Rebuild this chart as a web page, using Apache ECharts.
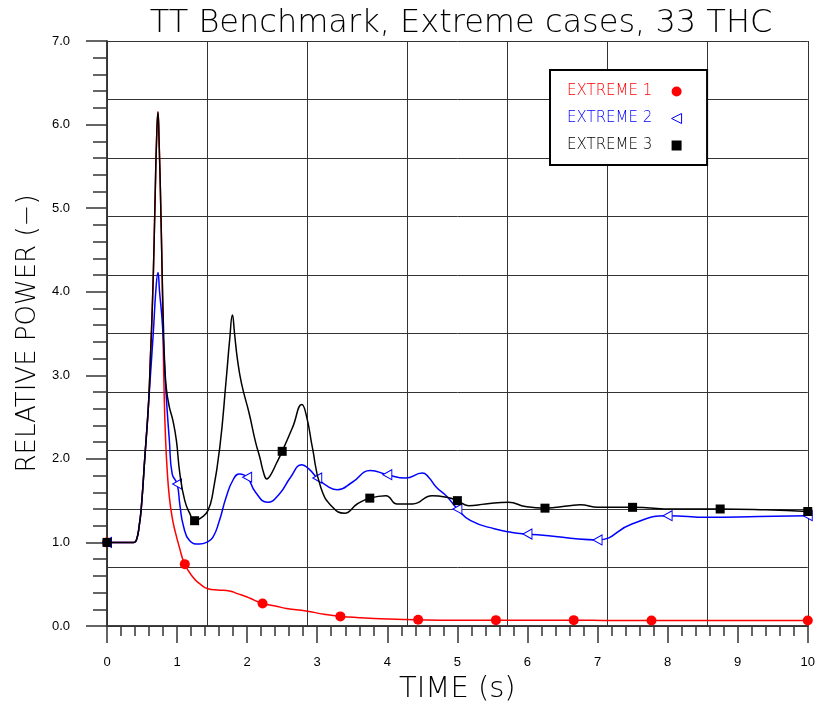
<!DOCTYPE html>
<html>
<head>
<meta charset="utf-8">
<script src="https://cdn.jsdelivr.net/npm/echarts@6/dist/echarts.min.js"></script>
<style>html,body{margin:0;padding:0;background:#fff}#c{width:818px;height:711px}</style>
</head>
<body>
<div id="c"></div>
<script>
// ---- data (time s, relative power) ----
const extreme1 = [[0,1.0],[0.2,1.0],[0.38,1.0],[0.42,1.03],[0.46,1.2],[0.49,1.42],[0.54,2.02],[0.59,2.62],[0.62,3.22],[0.65,3.9],[0.673,4.62],[0.69,5.25],[0.705,5.75],[0.727,6.15],[0.745,5.75],[0.765,5.1],[0.785,4.3],[0.80,3.5],[0.815,2.8],[0.835,2.25],[0.86,1.85],[0.89,1.54],[0.93,1.3],[0.97,1.14],[1.03,0.95],[1.11,0.74],[1.23,0.58],[1.33,0.5],[1.44,0.445],[1.58,0.43],[1.75,0.42],[1.85,0.39],[1.99,0.35],[2.1,0.31],[2.22,0.27],[2.4,0.24],[2.56,0.21],[2.84,0.18],[3.1,0.14],[3.33,0.115],[3.6,0.1],[4.0,0.085],[4.44,0.075],[5.0,0.07],[5.55,0.07],[6.1,0.07],[6.66,0.07],[7.2,0.065],[7.77,0.065],[8.9,0.065],[10,0.065]];
const extreme2 = [[0,1.0],[0.2,1.0],[0.38,1.0],[0.42,1.03],[0.46,1.2],[0.49,1.42],[0.54,2.02],[0.59,2.62],[0.62,3.0],[0.66,3.5],[0.70,4.05],[0.727,4.23],[0.75,4.0],[0.79,3.62],[0.84,2.82],[0.89,2.22],[0.93,1.82],[1.0,1.70],[1.04,1.45],[1.09,1.2],[1.18,1.02],[1.32,0.98],[1.42,1.0],[1.51,1.06],[1.6,1.25],[1.7,1.54],[1.8,1.75],[1.89,1.82],[2.0,1.78],[2.12,1.6],[2.29,1.48],[2.46,1.58],[2.62,1.78],[2.78,1.93],[2.88,1.88],[3.0,1.77],[3.15,1.67],[3.29,1.63],[3.5,1.72],[3.76,1.86],[4.0,1.81],[4.26,1.77],[4.5,1.83],[4.58,1.79],[4.7,1.66],[4.85,1.55],[5.0,1.40],[5.19,1.26],[5.54,1.16],[5.78,1.12],[6.0,1.10],[6.3,1.08],[6.73,1.04],[7.0,1.03],[7.49,1.22],[8.0,1.32],[8.58,1.30],[9.3,1.31],[10,1.32]];
const extreme3 = [[0,1.0],[0.2,1.0],[0.38,1.0],[0.42,1.03],[0.46,1.2],[0.49,1.42],[0.54,2.02],[0.59,2.62],[0.62,3.22],[0.65,3.9],[0.673,4.62],[0.69,5.25],[0.705,5.75],[0.727,6.15],[0.745,5.75],[0.765,5.1],[0.785,4.3],[0.805,3.6],[0.825,3.1],[0.85,2.82],[0.89,2.62],[0.94,2.46],[0.99,2.22],[1.04,1.82],[1.11,1.5],[1.18,1.35],[1.25,1.26],[1.35,1.3],[1.44,1.38],[1.51,1.59],[1.61,2.14],[1.70,2.94],[1.75,3.42],[1.79,3.72],[1.82,3.5],[1.86,3.2],[1.92,2.9],[2.03,2.54],[2.12,2.2],[2.18,2.02],[2.24,1.82],[2.28,1.76],[2.33,1.8],[2.42,1.95],[2.5,2.09],[2.65,2.38],[2.78,2.65],[2.85,2.5],[2.93,2.14],[3.05,1.66],[3.22,1.42],[3.39,1.35],[3.57,1.46],[3.75,1.53],[3.98,1.56],[4.14,1.46],[4.36,1.46],[4.64,1.56],[4.85,1.54],[5.0,1.5],[5.16,1.44],[5.4,1.46],[5.73,1.48],[5.97,1.43],[6.25,1.41],[6.6,1.44],[6.75,1.45],[7.01,1.42],[7.5,1.42],[8.1,1.4],[8.75,1.4],[9.4,1.39],[10,1.37]];
const marks1 = [0,1.11,2.22,3.33,4.44,5.55,6.66,7.77,10];
const marks2 = [0,1.0,2.0,3.0,4.0,5.0,6.0,7.0,8.0,10];
const marks3 = [0,1.25,2.5,3.75,5.0,6.25,7.5,8.75,10];
const seriesNames = ['EXTREME 1','EXTREME 2','EXTREME 3'];
const titleText = 'TT Benchmark, Extreme cases, 33 THC';
const xName = 'TIME (s)';
const yName = 'RELATIVE POWER (\u2212)';

const TRI = 'path://M10,0 L0,5 L10,10 Z';
const strokeFont = 'DejaVu Sans';
function markSym(list, sym){
  return function(val){ return list.some(m => Math.abs(m - val[0]) < 1e-6) ? sym : 'none'; };
}
const chart = echarts.init(document.getElementById('c'), null, {renderer:'canvas'});
chart.setOption({
  animation:false,
  backgroundColor:'#fff',
  title:{text:titleText,left:456,top:3,textAlign:'center',
    textStyle:{fontFamily:strokeFont,fontWeight:200,fontSize:32,color:'#000'}},
  legend:{
    orient:'vertical',left:550,top:70,align:'right',
    padding:[14,25,12,17],itemGap:12,itemWidth:10,itemHeight:10,
    borderColor:'#000',borderWidth:2,backgroundColor:'#fff',
    formatter:function(n){const k={'EXTREME 1':'r','EXTREME 2':'b','EXTREME 3':'k'}[n];return '{'+k+'|'+n+'\u00a0\u00a0\u00a0}';},
    textStyle:{rich:{
      r:{color:'#ff0000',fontFamily:strokeFont,fontWeight:200,fontSize:15},
      b:{color:'#0000ff',fontFamily:strokeFont,fontWeight:200,fontSize:15},
      k:{color:'#000000',fontFamily:strokeFont,fontWeight:200,fontSize:15}}},
    data:[
      {name:seriesNames[0],icon:'circle',itemStyle:{color:'#ff0000'}},
      {name:seriesNames[1],icon:TRI,itemStyle:{color:'#ffffff',borderColor:'#0000ff',borderWidth:1}},
      {name:seriesNames[2],icon:'rect',itemStyle:{color:'#000000'}}
    ]
  },
  grid:{left:107,right:8,top:41,bottom:85,containLabel:false},
  xAxis:[
    {type:'value',min:0,max:10,interval:1,position:'bottom',
     name:xName,nameLocation:'middle',nameGap:49,
     nameTextStyle:{fontFamily:strokeFont,fontWeight:200,fontSize:29,color:'#000'},
     axisLine:{show:true,lineStyle:{color:'#333',width:1.5}},
     axisTick:{show:true,inside:false,length:17,lineStyle:{color:'#333',width:1.5}},
     minorTick:{show:true,splitNumber:5,length:10,lineStyle:{color:'#333',width:1.5}},
     axisLabel:{margin:30,fontFamily:'Liberation Sans',fontSize:13,color:'#000'},
     splitLine:{show:false}},
    {type:'value',min:0,max:10,interval:10/7,position:'top',
     axisLine:{show:true,lineStyle:{color:'#333',width:1.5}},
     axisTick:{show:false},axisLabel:{show:false},
     splitLine:{show:true,lineStyle:{color:'#333',width:1}}}
  ],
  yAxis:[
    {type:'value',min:0,max:7,interval:1,position:'left',
     name:yName,nameLocation:'middle',nameGap:64,nameRotate:90,
     nameTextStyle:{fontFamily:strokeFont,fontWeight:200,fontSize:26,color:'#000'},
     axisLine:{show:true,lineStyle:{color:'#333',width:1.5}},
     axisTick:{show:true,inside:false,length:21,lineStyle:{color:'#333',width:1.5}},
     minorTick:{show:true,splitNumber:5,length:14,lineStyle:{color:'#333',width:1.5}},
     axisLabel:{margin:37,fontFamily:'Liberation Sans',fontSize:13,color:'#000',formatter:v=>v.toFixed(1)},
     splitLine:{show:false}},
    {type:'value',min:0,max:7,interval:0.7,position:'right',
     axisLine:{show:true,lineStyle:{color:'#333',width:1.5}},
     axisTick:{show:false},axisLabel:{show:false},
     splitLine:{show:true,lineStyle:{color:'#333',width:1}}}
  ],
  series:[
    {name:seriesNames[0],type:'line',data:extreme1,smooth:0.5,
     symbol:markSym(marks1,'circle'),symbolSize:10,showAllSymbol:true,
     lineStyle:{color:'#ff0000',width:1.5},itemStyle:{color:'#ff0000'},z:3},
    {name:seriesNames[1],type:'line',data:extreme2,smooth:0.5,
     symbol:markSym(marks2,TRI),symbolSize:[9,10],showAllSymbol:true,
     lineStyle:{color:'#0000ff',width:1.5},itemStyle:{color:'#ffffff',borderColor:'#0000ff',borderWidth:1},z:4},
    {name:seriesNames[2],type:'line',data:extreme3,smooth:0.5,
     symbol:markSym(marks3,'rect'),symbolSize:9,showAllSymbol:true,
     lineStyle:{color:'#000000',width:1.5},itemStyle:{color:'#000000'},z:5}
  ]
});
</script>
</body>
</html>
